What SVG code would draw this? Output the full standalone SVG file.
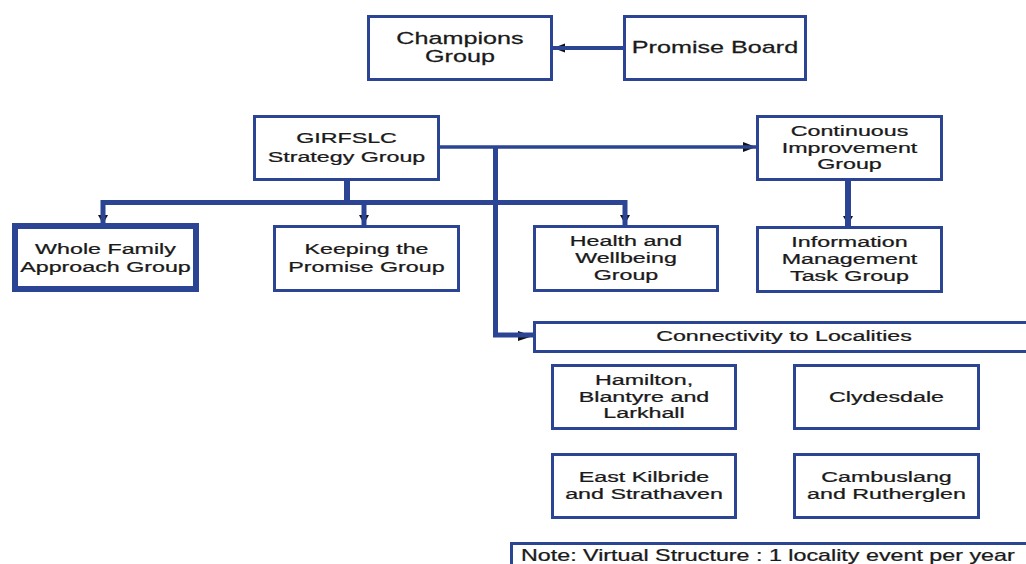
<svg xmlns="http://www.w3.org/2000/svg" width="1026" height="564" viewBox="0 0 1026 564">
  <style>
    .box{fill:#fff;stroke:#2b4594;stroke-width:3}
    .thick{stroke-width:6}
    .t{font-family:"Liberation Sans",Arial,sans-serif;font-size:15.5px;fill:#1a1a1a;stroke:#1a1a1a;stroke-width:0.25;text-anchor:middle}
    .big{font-size:17px}
    .note{font-size:16px;text-anchor:start}
    .ln{fill:none;stroke:#2b4594;stroke-linecap:butt;stroke-linejoin:miter}
    .ah{fill:#111}
  </style>

  <!-- connectors: small black heads first, blue lines drawn over them -->
  <g id="connectors">
    <polygon class="ah" points="553,48 565,43.5 565,52.5"/>
    <polygon class="ah" points="756,147 743,142 743,152"/>
    <polygon class="ah" points="103,224 98,215 108,215"/>
    <polygon class="ah" points="364,224 359,215 369,215"/>
    <polygon class="ah" points="625,224 620,215 630,215"/>
    <polygon class="ah" points="848,225 843,216 853,216"/>
    <polygon class="ah" points="533,336 518,331 518,341"/>

    <path class="ln" d="M623,48 H553" stroke-width="4"/>
    <path class="ln" d="M440,147 H756" stroke-width="3.5"/>
    <path class="ln" d="M495.5,147 V335 H533" stroke-width="5"/>
    <path class="ln" d="M347,181 V202" stroke-width="6"/>
    <path class="ln" d="M103,225 V202.5 H625 V225" stroke-width="5"/>
    <path class="ln" d="M364,202.5 V225" stroke-width="5"/>
    <path class="ln" d="M848,181 V226" stroke-width="6"/>
  </g>

  <g id="champions">
    <rect class="box" x="368.5" y="16.5" width="183" height="63"/>
    <text class="t big" transform="translate(460,43.5) scale(1.48,1)">Champions</text>
    <text class="t big" transform="translate(460,61.5) scale(1.48,1)">Group</text>
  </g>

  <g id="promise-board">
    <rect class="box" x="624.5" y="16.5" width="181" height="63"/>
    <text class="t big" transform="translate(715,53) scale(1.48,1)">Promise Board</text>
  </g>

  <g id="girfslc">
    <rect class="box" x="254.5" y="116.5" width="184" height="63"/>
    <text class="t" transform="translate(346.5,142.5) scale(1.5,1)">GIRFSLC</text>
    <text class="t" transform="translate(346.5,161.5) scale(1.5,1)">Strategy Group</text>
  </g>

  <g id="continuous-improvement">
    <rect class="box" x="757.5" y="116.5" width="184" height="63"/>
    <text class="t" transform="translate(849.5,135.5) scale(1.5,1)">Continuous</text>
    <text class="t" transform="translate(849.5,152.5) scale(1.5,1)">Improvement</text>
    <text class="t" transform="translate(849.5,169) scale(1.5,1)">Group</text>
  </g>

  <g id="whole-family">
    <rect class="box thick" x="15" y="226" width="181" height="63"/>
    <text class="t" transform="translate(105.5,253.5) scale(1.5,1)">Whole Family</text>
    <text class="t" transform="translate(105.5,271.5) scale(1.5,1)">Approach Group</text>
  </g>

  <g id="keeping-promise">
    <rect class="box" x="274.5" y="226.5" width="184" height="64"/>
    <text class="t" transform="translate(366.5,253.5) scale(1.5,1)">Keeping the</text>
    <text class="t" transform="translate(366.5,271.5) scale(1.5,1)">Promise Group</text>
  </g>

  <g id="health-wellbeing">
    <rect class="box" x="534.5" y="226.5" width="183" height="64"/>
    <text class="t" transform="translate(626,245.5) scale(1.5,1)">Health and</text>
    <text class="t" transform="translate(626,262.5) scale(1.5,1)">Wellbeing</text>
    <text class="t" transform="translate(626,279.5) scale(1.5,1)">Group</text>
  </g>

  <g id="information-management">
    <rect class="box" x="757.5" y="227.5" width="184" height="64"/>
    <text class="t" transform="translate(849.5,246.5) scale(1.5,1)">Information</text>
    <text class="t" transform="translate(849.5,263.5) scale(1.5,1)">Management</text>
    <text class="t" transform="translate(849.5,281) scale(1.5,1)">Task Group</text>
  </g>

  <g id="connectivity">
    <rect class="box" x="534.5" y="322.5" width="500" height="29"/>
    <text class="t" transform="translate(784,340.5) scale(1.5,1)">Connectivity to Localities</text>
  </g>

  <g id="hamilton">
    <rect class="box" x="552.5" y="365.5" width="183" height="63"/>
    <text class="t" transform="translate(644,384.5) scale(1.5,1)">Hamilton,</text>
    <text class="t" transform="translate(644,401.5) scale(1.5,1)">Blantyre and</text>
    <text class="t" transform="translate(644,418) scale(1.5,1)">Larkhall</text>
  </g>

  <g id="clydesdale">
    <rect class="box" x="794.5" y="365.5" width="184" height="63"/>
    <text class="t" transform="translate(886.5,401.5) scale(1.5,1)">Clydesdale</text>
  </g>

  <g id="east-kilbride">
    <rect class="box" x="552.5" y="454.5" width="183" height="63"/>
    <text class="t" transform="translate(644,481.5) scale(1.5,1)">East Kilbride</text>
    <text class="t" transform="translate(644,498.5) scale(1.5,1)">and Strathaven</text>
  </g>

  <g id="cambuslang">
    <rect class="box" x="794.5" y="454.5" width="184" height="63"/>
    <text class="t" transform="translate(886.5,481.5) scale(1.5,1)">Cambuslang</text>
    <text class="t" transform="translate(886.5,498.5) scale(1.5,1)">and Rutherglen</text>
  </g>

  <g id="note">
    <rect class="box" x="511.5" y="543.5" width="530" height="40"/>
    <text class="t note" transform="translate(521,561) scale(1.455,1)">Note: Virtual Structure : 1 locality event per year</text>
  </g>
</svg>
